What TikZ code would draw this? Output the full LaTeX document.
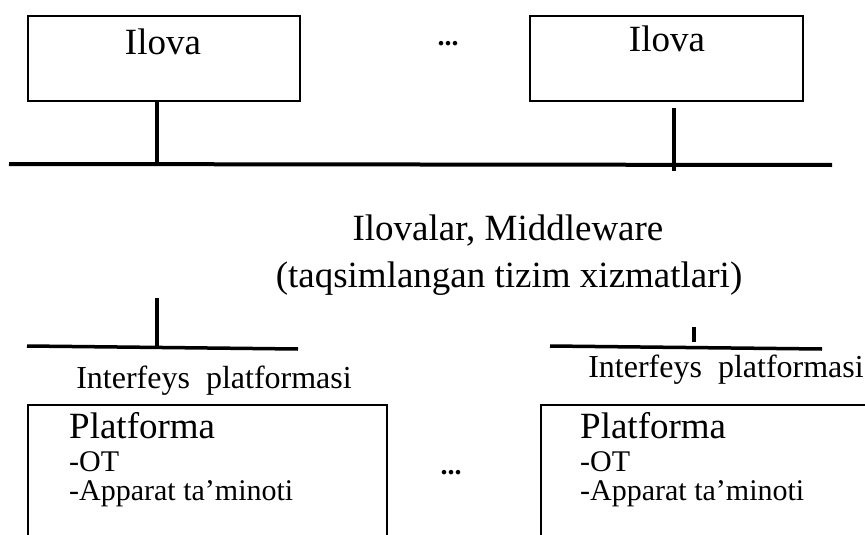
\documentclass[tikz,border=0pt]{standalone}
\usepackage{fontspec}
\setmainfont{Liberation Serif}
\usetikzlibrary{positioning}

\tikzset{
  appbox/.style={draw, line width=2pt, inner sep=0pt, anchor=north west},
  busline/.style={line width=4pt},
  stem/.style={line width=3.5pt},
  lbl/.style={inner sep=0pt, anchor=base},
  lblw/.style={inner sep=0pt, anchor=base west},
  bigtxt/.style={font=\fontsize{37}{44}\selectfont},
  midtxt/.style={font=\fontsize{32}{38}\selectfont},
  smalltxt/.style={font=\fontsize{30}{36}\selectfont},
  dotstxt/.style={font=\fontsize{28}{32}\selectfont\bfseries},
}

\begin{document}
\begin{tikzpicture}[x=1pt, y=-1pt]
 \useasboundingbox (0,0) rectangle (865,535);
 \clip (0,0) rectangle (865,535);

 %%%%%%%%%%%%%%%% ILOVALAR %%%%%%%%%%%%%%%%
 \node[appbox, minimum width=272pt, minimum height=85pt] (app1) at (27,15) {};
 \node[appbox, minimum width=273pt, minimum height=85pt] (app2) at (529,15) {};
 \node[lbl, bigtxt] (app1txt) at (163,55) {Ilova};
 \node[lbl, bigtxt] (app2txt) at (667,52) {Ilova};
 \node[lbl, dotstxt] (dotstop) at (448,46) {...};

 %%%%%%%%%%%%%%%% BUS %%%%%%%%%%%%%%%%%%%%%
 \coordinate (busL) at (9,164);
 \coordinate (busR) at (832,165);
 \coordinate (bus1) at (157,164);
 \coordinate (stem2top) at (674,108);
 \coordinate (stem2bot) at (674,171);

 \draw[busline] (busL) -- (busR);
 \draw[stem] (app1.south -| bus1) -- (bus1);
 \draw[stem] (stem2top) -- (stem2bot);

 % Middleware
 \node[lbl, bigtxt] (mw1) at (508,240) {Ilovalar, Middleware};
 \node[lbl, bigtxt] (mw2) at (509,287) {(taqsimlangan tizim xizmatlari)};

 %%%%%%%%%%%%%%%% PLATFORMALAR %%%%%%%%%%%%%
 \coordinate (ifL1) at (27,346);
 \coordinate (ifR1) at (298,349);
 \coordinate (if1top) at (157,298);
 \coordinate (if1bot) at (157,347);
 \coordinate (ifL2) at (550,346);
 \coordinate (ifR2) at (822,349);
 \coordinate (if2top) at (694,327);
 \coordinate (if2bot) at (694,342);

 \draw[stem] (ifL1) -- (ifR1);
 \draw[stem] (if1top) -- (if1bot);
 \draw[stem] (ifL2) -- (ifR2);
 \draw[stem] (if2top) -- (if2bot);

 \node[lbl, midtxt] (if1txt) at (214,388) {Interfeys\ \ platformasi};
 \node[lbl, midtxt] (if2txt) at (726,377) {Interfeys\ \ platformasi};

 \node[appbox, minimum width=359pt, minimum height=200pt] (plat1) at (27,404) {};
 \node[appbox, minimum width=400pt, minimum height=200pt] (plat2) at (540,404) {};

 \node[lblw, bigtxt] (p1a) at (69,438) {Platforma};
 \node[lblw, smalltxt] (p1b) at (69,471) {-OT};
 \node[lblw, smalltxt] (p1c) at (69,500) {-Apparat ta’minoti};
 \node[lblw, bigtxt] (p2a) at (580,438) {Platforma};
 \node[lblw, smalltxt] (p2b) at (580,471) {-OT};
 \node[lblw, smalltxt] (p2c) at (580,500) {-Apparat ta’minoti};

 \node[lbl, dotstxt] (dotsbot) at (451,474) {...};

\end{tikzpicture}
\end{document}
